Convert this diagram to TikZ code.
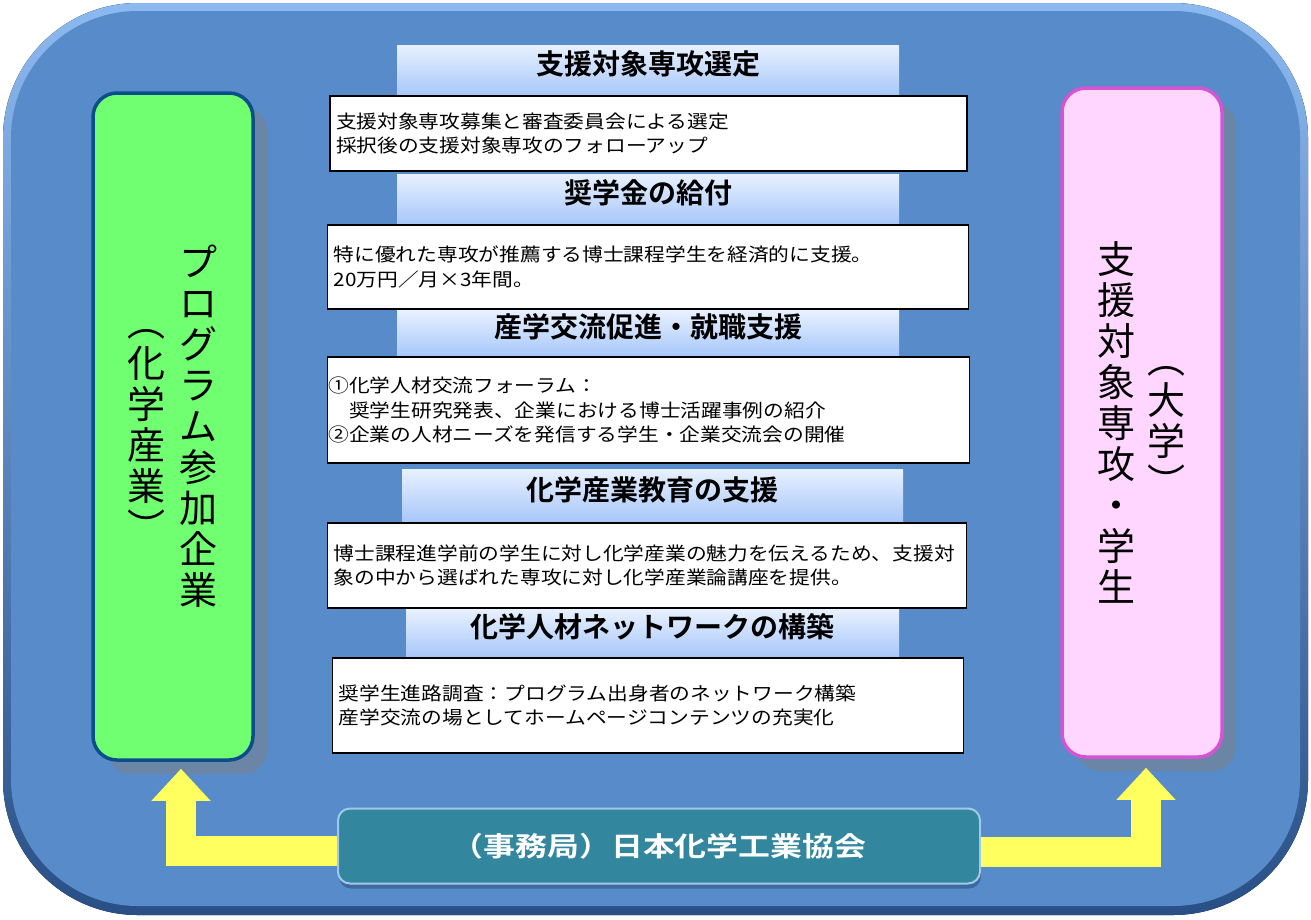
\documentclass[tikz,border=0pt]{standalone}
\usepackage{fontspec}
\usetikzlibrary{positioning,arrows.meta,shadows}

\newfontfamily\jpfont{Noto Sans CJK JP}[FakeStretch=1.12]
\newfontfamily\jpbold{Noto Sans CJK JP Bold}
\newfontfamily\jpwide{Noto Sans CJK JP Bold}[FakeStretch=1.18]
\newfontfamily\jptate{Noto Sans CJK JP}

\definecolor{framefill}{RGB}{88,139,202}
\definecolor{framelight}{RGB}{140,185,240}
\definecolor{framedark}{RGB}{40,80,135}
\definecolor{headtop}{RGB}{232,241,255}
\definecolor{headbot}{RGB}{166,198,250}
\definecolor{corpfill}{RGB}{112,255,112}
\definecolor{corpline}{RGB}{12,78,140}
\definecolor{univfill}{RGB}{255,214,255}
\definecolor{univline}{RGB}{212,84,212}
\definecolor{shadowgray}{RGB}{106,133,165}
\definecolor{tealfill}{RGB}{50,134,158}
\definecolor{tealline}{RGB}{160,200,232}
\definecolor{tealshadow}{RGB}{60,106,160}
\definecolor{arrowyellow}{RGB}{255,255,96}

\tikzset{
  head/.style={top color=headtop, bottom color=headbot, inner sep=0pt,
    text height=20pt, text depth=12pt, font=\jpbold\fontsize{28}{30}\selectfont},
  body/.style={draw=black, line width=1.2pt, fill=white, align=left,
    inner xsep=6pt, font=\jpfont\fontsize{18.5}{24.5}\selectfont},
  side/.style={rounded corners=24pt, line width=3.5pt,
    drop shadow={shadow xshift=14pt, shadow yshift=-14pt, fill=shadowgray, opacity=1}},
  tate/.style={align=center, inner sep=0pt, font=\jptate\fontsize{38}{41}\selectfont},
  office/.style={fill=tealfill, draw=tealline, line width=2pt, rounded corners=12pt,
    text=white, font=\jpwide\fontsize{27}{30}\selectfont,
    drop shadow={shadow xshift=1pt, shadow yshift=-5pt, fill=tealshadow, opacity=1}},
  yarrow/.style={draw=arrowyellow, line width=30pt, -{Triangle[width=57pt,length=32pt]}}
}

\begin{document}
\begin{tikzpicture}[x=1pt, y=-1pt]

    \useasboundingbox (0,0) rectangle (1311,919);

    % frame
    \fill[top color=framelight, bottom color=framedark, rounded corners=135pt] (3,3) rectangle (1308,915);
    \fill[framefill, rounded corners=127pt] (11,11) rectangle (1300,906);

    % side boxes
    \node[side, fill=corpfill, draw=corpline, minimum width=160pt, minimum height=667pt] (corp) at (173,426.5) {};
    \node[side, fill=univfill, draw=univline, minimum width=160pt, minimum height=669pt] (univ) at (1142,422.5) {};

    \node[tate] (corpA) at ([xshift=25.5pt]corp.center) {プ\\ロ\\グ\\ラ\\ム\\参\\加\\企\\業};
    \node[tate] (corpB) at ([xshift=-26.5pt,yshift=-9pt]corp.center) {︵\\化\\学\\産\\業\\︶};
    \node[tate] (univA) at ([xshift=-26pt]univ.center) {支\\援\\対\\象\\専\\攻\\・\\学\\生};
    \node[tate] (univB) at ([xshift=24pt,yshift=-9pt]univ.center) {︵\\大\\学\\︶};

    % headings
    \node[head, minimum width=502pt, minimum height=51pt] (selH) at (648,70.5) {支援対象専攻選定};
    \node[head, minimum width=502pt, minimum height=51pt] (grantH) at (648,199.5) {奨学金の給付};
    \node[head, minimum width=502pt, minimum height=47pt] (jobH) at (648,333.5) {産学交流促進・就職支援};
    \node[head, minimum width=501pt, minimum height=54pt] (eduH) at (652.5,496) {化学産業教育の支援};
    \node[head, minimum width=493pt, minimum height=49pt] (netH) at (652.5,633.5) {化学人材ネットワークの構築};

    % text boxes
    \node[body, text width=625pt, minimum height=75pt] (sel) at (648.5,133.5)
        {支援対象専攻募集と審査委員会による選定\\採択後の支援対象専攻のフォローアップ};
    \node[body, text width=629pt, minimum height=84pt] (grant) at (648.3,267)
        {特に優れた専攻が推薦する博士課程学生を経済的に支援。\\20万円／月×3年間。};
    \node[body, inner xsep=1pt, text width=640pt, minimum height=106pt] (job) at (648.5,410)
        {①化学人材交流フォーラム：\\　奨学生研究発表、企業における博士活躍事例の紹介\\②企業の人材ニーズを発信する学生・企業交流会の開催};
    \node[body, text width=627pt, minimum height=85pt] (edu) at (647.3,565.5)
        {博士課程進学前の学生に対し化学産業の魅力を伝えるため、支援対\\象の中から選ばれた専攻に対し化学産業論講座を提供。};
    \node[body, text width=619pt, minimum height=95pt] (net) at (648.3,705.5)
        {奨学生進路調査：プログラム出身者のネットワーク構築\\産学交流の場としてホームページコンテンツの充実化};

    % office and arrows
    \node[office, minimum width=642pt, minimum height=75pt] (office) at (659,846) {（事務局）日本化学工業協会};

    \draw[yarrow] ([yshift=-5pt]office.west) -| ([xshift=8pt,yshift=-7pt]corp.south);
    \draw[yarrow] ([yshift=-6pt]office.east) -| ([xshift=4pt,yshift=-9pt]univ.south);

\end{tikzpicture}
\end{document}
